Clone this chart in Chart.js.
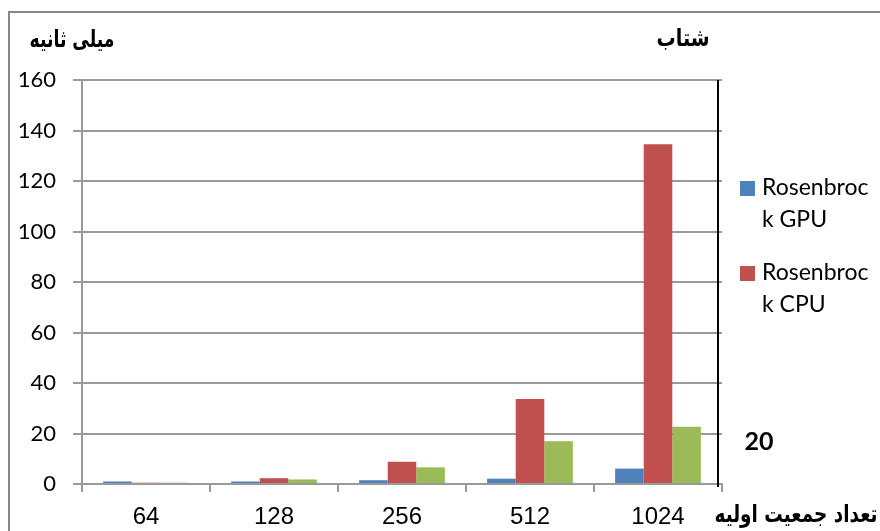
<!DOCTYPE html>
<html>
<head>
<meta charset="utf-8">
<script src="https://cdn.jsdelivr.net/npm/chart.js@4/dist/chart.umd.min.js"></script>
<style>
  html, body { margin: 0; padding: 0; background: #fff; }
  canvas { display: block; }
</style>
</head>
<body>
<canvas id="chart" width="880" height="531"></canvas>
<script>
var populations = ['64', '128', '256', '512', '1024'];
var gpuTimes = [1, 1, 1.5, 2.1, 6.1];
var cpuTimes = [0.5, 2.3, 8.8, 33.7, 134.6];
var speedups = [0.5, 1.8, 6.6, 16.9, 22.7];
var yTicks = [0, 20, 40, 60, 80, 100, 120, 140, 160];

var blue = '#4f81bd';
var red = '#c0504d';
var green = '#9bbb59';
var gridGray = '#9a9a9a';
var persianFont = '"DejaVu Sans", sans-serif';

// draws text squeezed or stretched to a given width
function fitText(ctx, text, cx, cy, width) {
    var w = ctx.measureText(text).width;
    ctx.save();
    ctx.translate(cx, cy);
    ctx.scale(width / w, 1);
    ctx.fillText(text, 0, 0);
    ctx.restore();
}

// frame, titles, secondary axis line and the wrapped legend
var decorations = {
    id: 'decorations',
    afterDraw: function (chart) {
        var ctx = chart.ctx;
        var area = chart.chartArea;
        ctx.save();

        ctx.strokeStyle = '#878787';
        ctx.lineWidth = 2;
        ctx.beginPath();
        ctx.moveTo(9, 531);
        ctx.lineTo(9, 12);
        ctx.lineTo(880, 12);
        ctx.stroke();

        ctx.strokeStyle = '#000';
        ctx.lineWidth = 2;
        ctx.beginPath();
        ctx.moveTo(area.right - 4, area.top);
        ctx.lineTo(area.right - 4, area.bottom + 3);
        ctx.stroke();

        ctx.fillStyle = '#000';
        ctx.textAlign = 'center';
        ctx.textBaseline = 'middle';
        ctx.font = 'bold 24px ' + persianFont;
        fitText(ctx, 'میلی ثانیه', 72, 41, 85);
        fitText(ctx, 'شتاب', 683, 40, 53);
        fitText(ctx, 'تعداد جمعیت اولیه', 796, 516, 163);
        ctx.font = 'bold 25px Lato, sans-serif';
        ctx.fillText('20', 759, 442);

        var entries = chart.data.datasets.slice(0, 2);
        var rows = [
            ['Rosenbroc', 'k GPU'],
            ['Rosenbroc', 'k CPU']
        ];
        ctx.textAlign = 'left';
        ctx.font = '23px Lato, sans-serif';
        entries.forEach(function (ds, i) {
            var y = 188 + i * 85;
            ctx.fillStyle = ds.backgroundColor;
            ctx.fillRect(740, y - 7, 15, 15);
            ctx.fillStyle = '#000';
            ctx.fillText(rows[i][0], 762, y);
            ctx.fillText(rows[i][1], 762, y + 32);
        });

        ctx.restore();
    }
};

new Chart(document.getElementById('chart'), {
    type: 'bar',
    data: {
        labels: populations,
        datasets: [
            {label: 'Rosenbrock GPU', data: gpuTimes, backgroundColor: blue},
            {label: 'Rosenbrock CPU', data: cpuTimes, backgroundColor: red},
            {label: 'شتاب', data: speedups, backgroundColor: green}
        ]
    },
    options: {
        responsive: false,
        animation: false,
        events: [],
        layout: {padding: {top: 80, right: 158, left: 0, bottom: 0}},
        datasets: {bar: {categoryPercentage: 0.67, barPercentage: 1}},
        plugins: {legend: {display: false}, tooltip: {enabled: false}},
        scales: {
            x: {
                afterFit: function (scale) { scale.height = 47; },
                grid: {offset: true, drawOnChartArea: false, color: gridGray, lineWidth: 2, tickLength: 8},
                border: {color: gridGray, width: 2},
                ticks: {
                    color: '#000',
                    padding: 11,
                    font: {family: '"Liberation Sans Narrow", "Liberation Sans", sans-serif', size: 24}
                }
            },
            y: {
                min: 0,
                max: 160,
                afterFit: function (scale) { scale.width = 82; },
                afterBuildTicks: function (scale) {
                    scale.ticks = yTicks.map(function (v) { return {value: v}; });
                },
                grid: {color: gridGray, lineWidth: 2, tickLength: 9},
                border: {color: gridGray, width: 2},
                ticks: {
                    color: '#000',
                    padding: 17,
                    font: {family: 'Lato, sans-serif', size: 22}
                }
            }
        }
    },
    plugins: [decorations]
});
</script>
</body>
</html>
